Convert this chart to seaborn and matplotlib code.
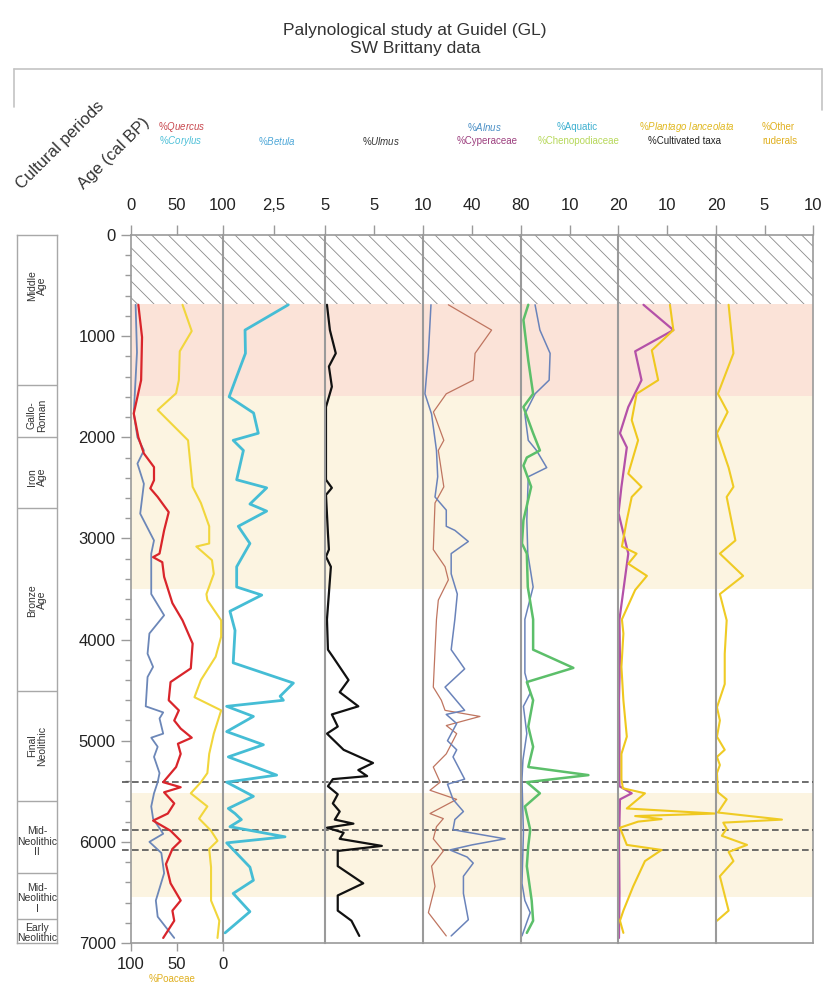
import numpy as np
import pandas as pd
import seaborn as sns
import matplotlib.pyplot as plt
from matplotlib.lines import Line2D
from matplotlib.ticker import MultipleLocator

sns.set_style("white")
plt.rcParams['font.family'] = ['Liberation Sans', 'DejaVu Sans']
plt.rcParams['mathtext.fontset'] = 'custom'
plt.rcParams['mathtext.rm'] = 'Liberation Sans'
plt.rcParams['mathtext.it'] = 'Liberation Sans:italic'
plt.rcParams['hatch.linewidth'] = 0.6

# ---- data (ages in cal BP, values in %) ----
quercus_age = [690, 1010, 1435, 1765, 2000, 2160, 2295, 2425, 2505, 2590, 2740, 2920, 3150, 3185, 3235,
               3380, 3640, 3810, 4040, 4285, 4420, 4600, 4700, 4800, 4880, 4970, 5030, 5130, 5260, 5410,
               5460, 5510, 5620, 5720, 5790, 5890, 5990, 6070, 6220, 6410, 6580, 6680, 6780, 6950]
quercus = [8, 12, 11, 3, 8, 14, 25, 25, 21, 29, 41, 36, 31, 24, 34,
           36, 45, 56, 67, 65, 43, 41, 52, 47, 54, 66, 51, 54, 49, 35,
           54, 36, 47, 40, 24, 43, 54, 45, 38, 43, 54, 45, 47, 35]

corylus_age = [690, 1160, 1765, 2000, 2130, 2260, 2460, 2755, 3020, 3150, 3215, 3550, 3760, 3940, 4140,
               4270, 4370, 4660, 4720, 4780, 4930, 4970, 5060, 5160, 5320, 5410, 5520, 5650, 5770, 5920,
               6000, 6110, 6310, 6580, 6740, 6950]
corylus = [5, 6.5, 3, 7, 14, 7, 14, 10, 25, 22, 22, 22, 36, 20, 18,
           24, 18, 16, 35, 31, 35, 22, 29, 25, 31, 29, 25, 22, 24, 35,
           20, 33, 36, 27, 29, 47]

poaceae_age = [690, 950, 1150, 1435, 1565, 1730, 2030, 2490, 2650, 2880, 3050, 3080, 3215, 3350, 3550,
               3610, 3810, 3970, 4170, 4400, 4570, 4700, 4930, 5130, 5320, 5410, 5520, 5650, 5770, 5890,
               5990, 6070, 6250, 6580, 6780, 6950]
poaceae = [44, 34, 47, 48, 51, 71, 38, 33, 24, 15, 15, 29, 12, 10, 18,
           17, 2, 2, 8, 24, 31, 2, 10, 15, 17, 24, 35, 17, 26, 13,
           6, 15, 13, 13, 4, 6]

betula_age = [690, 940, 1170, 1400, 1600, 1760, 1960, 2030, 2130, 2420, 2500, 2660, 2730, 2880, 3050,
              3280, 3480, 3560, 3720, 3910, 4230, 4430, 4560, 4600, 4660, 4760, 4910, 5040, 5160, 5340,
              5410, 5550, 5670, 5720, 5780, 5850, 5950, 6010, 6250, 6380, 6510, 6690, 6900]
betula = [3.2, 1.08, 1.1, 0.67, 0.3, 1.5, 1.73, 0.5, 1.0, 0.67, 2.14, 1.32, 2.14, 0.75, 1.32,
          0.67, 0.67, 1.9, 0.34, 0.59, 0.5, 3.45, 2.8, 2.96, 0.18, 1.49, 0.18, 1.98, 0.26, 2.63,
          0.18, 1.49, 0.26, 0.59, 0.9, 0.34, 3.04, 0.18, 1.32, 1.49, 0.5, 1.32, 0.1]

ulmus_age = [690, 940, 1170, 1300, 1500, 1700, 2420, 2500, 2570, 2950, 3110, 3180, 3280, 3800, 4100,
             4170, 4400, 4520, 4660, 4740, 4860, 4930, 5090, 5220, 5290, 5350, 5380, 5450, 5530, 5620,
             5700, 5780, 5820, 5860, 5910, 5970, 6040, 6090, 6240, 6410, 6530, 6680, 6780, 6930]
ulmus = [0.2, 0.5, 1.1, 0.4, 0.7, 0.1, 0.1, 0.7, 0.1, 0.3, 0.4, 0.1, 0.6, 0.2, 0.3,
         0.8, 2.4, 1.5, 3.4, 0.7, 1.3, 0.2, 1.9, 4.9, 3.4, 4.3, 0.8, 0.3, 1.3, 0.8,
         1.5, 1.0, 2.9, 0.2, 1.9, 1.5, 5.8, 1.3, 1.3, 3.9, 1.3, 1.3, 2.7, 3.5]

alnus_age = [690, 1170, 1570, 1770, 2130, 2390, 2590, 2720, 2880, 2920, 3030, 3150, 3350, 3550, 3800,
             4100, 4290, 4470, 4700, 4740, 4830, 5000, 5090, 5160, 5380, 5430, 5580, 5700, 5780, 5880,
             5970, 6030, 6080, 6150, 6210, 6340, 6510, 6770, 6930]
alnus = [6.5, 4.4, 1.6, 7, 11, 12, 9.8, 19, 19, 26, 37, 23, 23, 28, 26,
         23, 34, 18, 34, 19, 27.5, 20, 27.5, 24.5, 34, 20, 24.5, 33, 26, 24.5,
         67, 40, 22, 36, 41, 33, 33, 37, 23]

cyper_age = [690, 940, 1170, 1435, 1570, 1750, 2030, 2130, 2490, 2650, 3110, 3280, 3410, 3610, 3800,
             4470, 4600, 4700, 4760, 4850, 4930, 5130, 5260, 5410, 5490, 5580, 5720, 5770, 5850, 5970,
             6090, 6240, 6440, 6700, 6930]
cyperaceae = [20.7, 56, 42.5, 41, 19, 8.5, 17, 12.5, 17, 9.8, 8.4, 18, 20.7, 12.5, 11,
              8.4, 15, 18, 46.5, 19, 27.5, 19, 8.4, 14, 5.7, 27.5, 5.7, 16.6, 11, 8.4,
              16.6, 7, 9.8, 4.4, 19]

aquatic_age = [690, 940, 1170, 1435, 1570, 1770, 2030, 2130, 2300, 2390, 2820, 3150, 3480, 3800, 4330,
               4530, 4660, 4930, 5190, 5380, 5910, 6410, 6580, 6700, 6930]
aquatic = [2.9, 3.9, 6, 5.8, 2.9, 0.8, 1.5, 3.2, 5.3, 1.5, 1.2, 1.4, 2.5, 0.8, 0.8,
           1.9, 0.5, 1.2, 0.4, 0.2, 0.5, 0.2, 0.8, 1.9, 0.2]

cheno_age = [690, 840, 1240, 1570, 1700, 1960, 2130, 2200, 2280, 2490, 2820, 3050, 3150, 3480, 3800,
             4100, 4280, 4420, 4600, 4860, 5060, 5260, 5340, 5410, 5520, 5650, 5880, 6040, 6240, 6580,
             6780, 6900]
cheno = [1.5, 0.5, 1.5, 2.5, 0.5, 2.5, 3.9, 1.2, 0.5, 2.1, 0.5, 0.2, 1.2, 1.4, 2.5,
         2.5, 10.8, 1.2, 2.5, 1.5, 2.5, 1.5, 13.9, 1.2, 3.9, 0.8, 1.9, 1.5, 1.2, 2.2,
         2.5, 1.2]

plantago_age = [690, 940, 1140, 1435, 1570, 1830, 2030, 2360, 2490, 2590, 2820, 3080, 3150, 3250, 3370,
                3510, 3800, 3940, 4270, 4600, 4960, 5130, 5380, 5470, 5520, 5670, 5720, 5745, 5775, 5800,
                5860, 6030, 6080, 6190, 6440, 6680, 6780, 6900]
plantago = [10.6, 11.3, 6.9, 8.2, 3.8, 2.8, 4.1, 2.1, 4.8, 2.8, 1.8, 0.8, 3.8, 2.1, 5.9,
            3.5, 0.8, 1.1, 0.7, 1.1, 1.8, 0.7, 0.7, 1.0, 5.5, 1.8, 19.8, 3.5, 8.9, 4.1,
            0.4, 1.8, 8.9, 5.5, 3.1, 1.1, 0.4, 1.1]

cultiv_age = [690, 940, 1150, 1435, 1700, 1960, 2100, 2490, 2750, 3150, 3800, 4200, 4600, 5000, 5450,
              5520, 5580, 6000, 6500, 6950]
cultivated = [5.2, 11.3, 3.5, 4.8, 2.1, 0.4, 1.8, 0.7, 0.1, 2.1, 0.3, 0.4, 0.2, 0.3, 0.3,
              2.8, 0.4, 0.2, 0.3, 0.2]

ruder_age = [690, 1170, 1570, 1750, 1960, 2300, 2490, 2590, 3020, 3150, 3370, 3550, 3810, 4140, 4440,
             4670, 4800, 4960, 5090, 5160, 5240, 5320, 5510, 5580, 5710, 5780, 5810, 5870, 5940, 6030,
             6100, 6190, 6340, 6680, 6780]
ruderals = [1.3, 1.8, 0.2, 1.2, 0.1, 1.3, 1.8, 1.1, 2.0, 0.4, 2.8, 0.4, 1.1, 0.9, 0.9,
            0.1, 0.4, 0.1, 0.9, 0.1, 0.4, 0.1, 0.2, 1.1, 0.2, 6.8, 0.75, 1.1, 0.6, 3.2,
            1.3, 1.8, 0.4, 1.3, 0.1]

period_names = ["Middle\nAge", "Gallo-\nRoman", "Iron\nAge", "Bronze\nAge", "Final\nNeolithic",
                "Mid-\nNeolithic\nII", "Mid-\nNeolithic\nI", "Early\nNeolithic"]
period_bounds = [0, 1485, 2000, 2700, 4510, 5595, 6305, 6765, 7000]
period_label_age = [500, 1780, 2390, 3610, 5050, 6000, 6560, 6900]
period_rotated = [True, True, True, True, True, False, False, False]

band_pink = (680, 1590)
band_beige = [(1590, 3500), (5515, 6550)]
hatch_zone = (0, 680)
zone_lines = [5410, 5880, 6080]

# ---- layout helpers (pixel -> figure fraction) ----
W, H = 823, 992
fig = plt.figure(figsize=(W / 100, H / 100), dpi=100)
fig.patch.set_facecolor('white')


def fx(px):
    return px / W


def fy(py):
    return 1 - py / H


TOP, BOT = 235, 943
EDGES = [131, 223, 325, 423, 521, 618, 716, 813]
GRID = '#9a9a9a'


def add_axes(x0, x1):
    return fig.add_axes([fx(x0), fy(BOT), fx(x1) - fx(x0), (BOT - TOP) / H])


# background axes: bands, hatch, zone lines, age axis
bg = add_axes(EDGES[0], EDGES[-1])
bg.set_ylim(7000, 0)
bg.set_xlim(0, 1)
bg.axhspan(*band_pink, color='#fbe3d8', lw=0)
for b in band_beige:
    bg.axhspan(*b, color='#fcf4e1', lw=0)
bg.axhspan(*hatch_zone, facecolor='none', edgecolor='#8a8a8a', hatch='\\\\', lw=0)
bg.hlines(zone_lines, -0.013, 1, transform=bg.get_yaxis_transform(), colors='#555555',
          linestyles=(0, (4, 2)), lw=1.2, clip_on=False, zorder=5)
for s in bg.spines.values():
    s.set_color(GRID)
    s.set_linewidth(1.2)
bg.set_xticks([])
bg.yaxis.set_major_locator(MultipleLocator(1000))
bg.yaxis.set_minor_locator(MultipleLocator(200))
bg.tick_params(axis='y', which='major', left=True, length=7, width=1, color=GRID,
               labelsize=12, labelcolor='#222222', pad=4)
bg.tick_params(axis='y', which='minor', left=True, length=4, width=1, color=GRID)

# panels
panels = [
    (100, [0, 50, 100], ["0", "50", "100"]),
    (5, [2.5, 5], ["2,5", "5"]),
    (10, [5, 10], ["5", "10"]),
    (80, [40, 80], ["40", "80"]),
    (20, [10, 20], ["10", "20"]),
    (20, [10, 20], ["10", "20"]),
    (10, [5, 10], ["5", "10"]),
]
axes = []
for i, (xmax, ticks, labels) in enumerate(panels):
    ax = add_axes(EDGES[i], EDGES[i + 1])
    ax.patch.set_alpha(0)
    ax.set_xlim(0, xmax)
    ax.set_ylim(7000, 0)
    for k, s in ax.spines.items():
        s.set_visible(k == 'left' and i > 0)
        s.set_color(GRID)
        s.set_linewidth(1.5)
    ax.xaxis.tick_top()
    ax.set_xticks(ticks)
    ax.set_xticklabels(labels)
    ax.tick_params(axis='x', top=True, bottom=False, labeltop=True, labelbottom=False,
                   length=7, width=1, color=GRID, labelsize=12, labelcolor='#222222', pad=9)
    ax.set_yticks([])
    axes.append(ax)

# Poaceae on a reversed scale, overlaid on the first panel
axp = add_axes(EDGES[0], EDGES[1])
axp.patch.set_alpha(0)
axp.set_xlim(100, 0)
axp.set_ylim(7000, 0)
for s in axp.spines.values():
    s.set_visible(False)
axp.xaxis.tick_bottom()
axp.set_xticks([100, 50, 0])
axp.set_xticklabels(["100", "50", "0"])
axp.tick_params(axis='x', bottom=True, top=False, labelbottom=True, labeltop=False,
                length=6, width=1, color=GRID, labelsize=12, labelcolor='#222222', pad=4)
axp.set_yticks([])

series = [
    (axp, poaceae_age, poaceae, '#f1d63c', 1.5),
    (axes[0], corylus_age, corylus, '#6c87b8', 1.3),
    (axes[0], quercus_age, quercus, '#d9252b', 1.6),
    (axes[1], betula_age, betula, '#45bdd5', 2.0),
    (axes[2], ulmus_age, ulmus, '#111111', 1.6),
    (axes[3], cyper_age, cyperaceae, '#bf7560', 0.9),
    (axes[3], alnus_age, alnus, '#6a83ba', 1.1),
    (axes[4], aquatic_age, aquatic, '#6a83ba', 1.1),
    (axes[4], cheno_age, cheno, '#5cbf6a', 1.8),
    (axes[5], cultiv_age, cultivated, '#b451a8', 1.6),
    (axes[5], plantago_age, plantago, '#efc81e', 1.5),
    (axes[6], ruder_age, ruderals, '#efcb25', 1.5),
]
for ax, ages, vals, col, lw in series:
    df = pd.DataFrame({'age': ages, 'val': vals})
    sns.lineplot(data=df, x='val', y='age', ax=ax, color=col, linewidth=lw,
                 estimator=None, sort=False, orient='y')
    ax.set_xlabel('')
    ax.set_ylabel('')
    ax.set_ylim(7000, 0)
axes[0].set_xlim(0, 100)
axp.set_xlim(100, 0)

# cultural periods column
axc = fig.add_axes([fx(17), fy(BOT), fx(57) - fx(17), (BOT - TOP) / H])
axc.set_xlim(0, 1)
axc.set_ylim(7000, 0)
axc.set_xticks([])
axc.set_yticks([])
for s in axc.spines.values():
    s.set_color('#a8a8a8')
    s.set_linewidth(1)
axc.hlines(period_bounds[1:-1], 0, 1, colors='#a8a8a8', lw=1)
for name, a, rot in zip(period_names, period_label_age, period_rotated):
    axc.text(0.5, a, name, rotation=90 if rot else 0, ha='center', va='center',
             fontsize=7.5, color='#333333', linespacing=1.05)

# header frame
for xs, ys in [([14, 822], [69, 69]), ([14, 14], [69, 107]), ([822, 822], [69, 110])]:
    fig.add_artist(Line2D([fx(x) for x in xs], [fy(y) for y in ys], color='#c4c4c4', lw=1.2))

fig.text(fx(415), fy(23), "Palynological study at Guidel (GL)\nSW Brittany data",
         ha='center', va='top', fontsize=12.5, color='#333333', linespacing=1.25)
fig.text(fx(22), fy(190), "Cultural periods", rotation=45, rotation_mode='anchor',
         ha='left', va='baseline', fontsize=12, color='#333333')
fig.text(fx(84), fy(190), "Age (cal BP)", rotation=45, rotation_mode='anchor',
         ha='left', va='baseline', fontsize=12, color='#333333')

taxon_labels = [
    (182, 127, r"%$\it{Quercus}$", '#c8484e'),
    (181, 141, r"%$\it{Corylus}$", '#4ec0d8'),
    (277, 141, r"%$\it{Betula}$", '#4fa8d8'),
    (381, 141, r"%$\it{Ulmus}$", '#333333'),
    (484, 127, r"%$\it{Alnus}$", '#4a8fc6'),
    (487, 141, "%Cyperaceae", '#9c3f7e'),
    (577, 127, "%Aquatic", '#3fb0d0'),
    (579, 141, "%Chenopodiaceae", '#b7d85a'),
    (687, 127, r"%$\it{Plantago\ lanceolata}$", '#e0b820'),
    (685, 141, "%Cultivated taxa", '#222222'),
    (778, 127, "%Other", '#e0b020'),
    (780, 141, "ruderals", '#e0b020'),
    (172, 979, "%Poaceae", '#e0b020'),
]
for x, y, t, c in taxon_labels:
    fig.text(fx(x), fy(y), t, ha='center', va='center', fontsize=7, color=c)

fig.savefig('out.png', dpi=100)
